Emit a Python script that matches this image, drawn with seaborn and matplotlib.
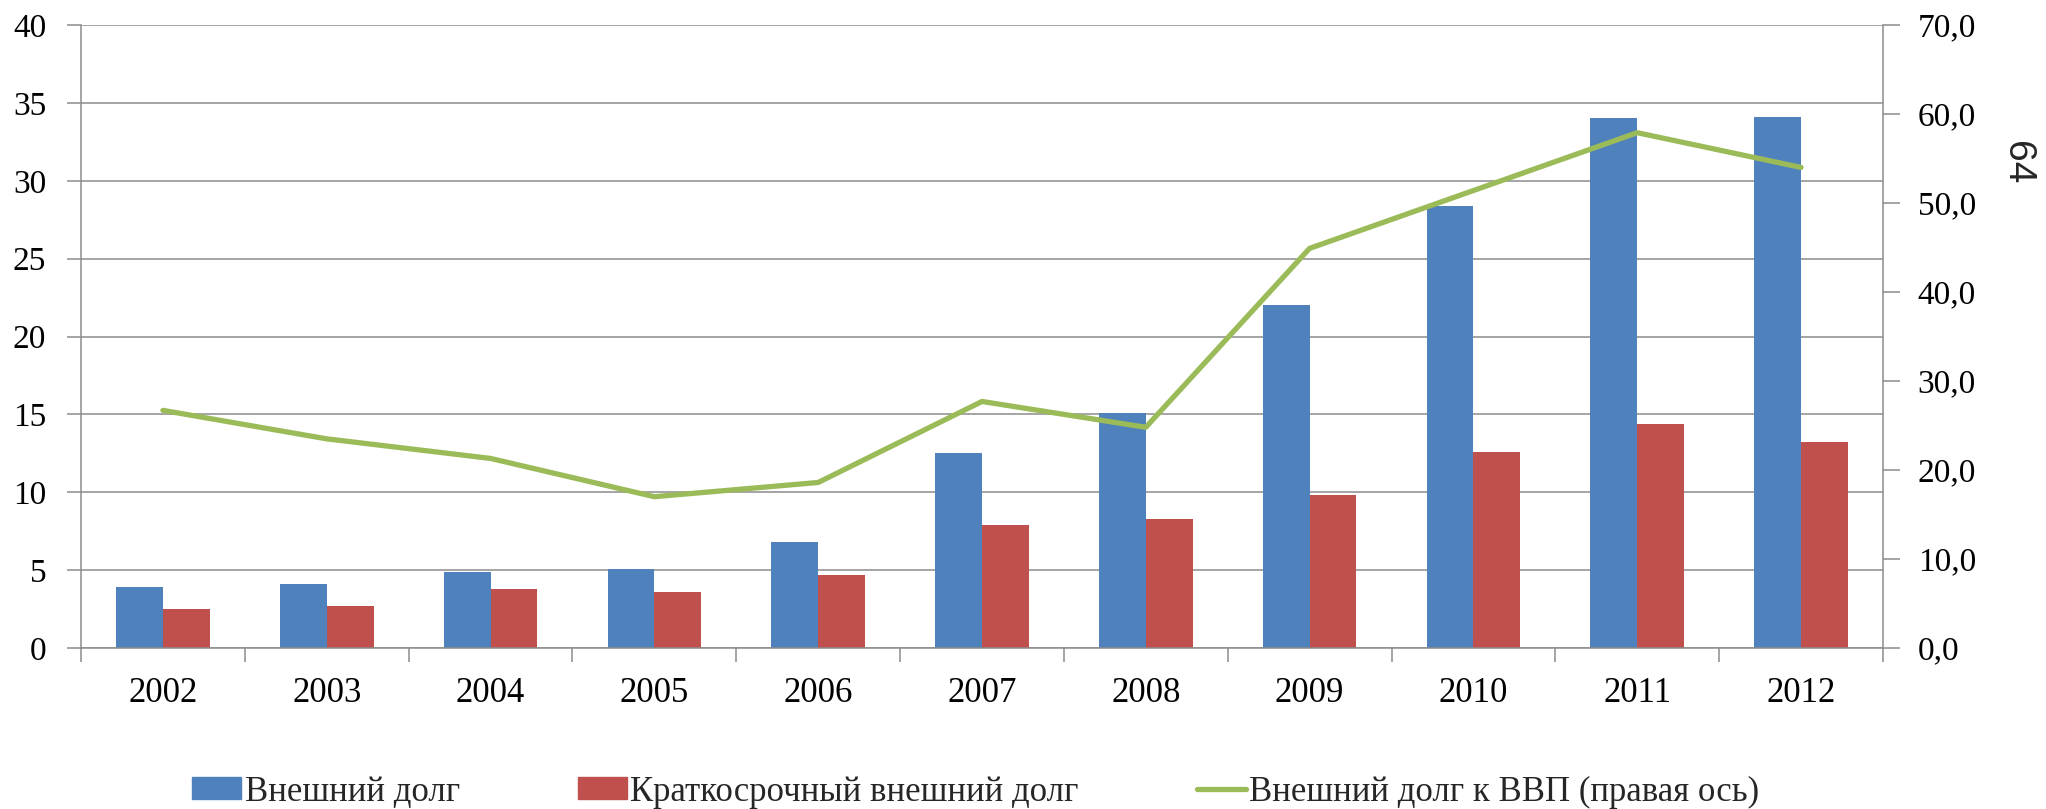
import numpy as np
import pandas as pd
import seaborn as sns
import matplotlib.pyplot as plt
from matplotlib.ticker import FuncFormatter, FixedLocator

sns.set_theme(style = "white")
plt.rcParams['font.family'] = ['Liberation Serif', 'DejaVu Serif']

# Data
years = ["2002", "2003", "2004", "2005", "2006", "2007", "2008", "2009", "2010", "2011", "2012"]
external_debt = [3.9, 4.1, 4.9, 5.1, 6.8, 12.5, 15.1, 22.0, 28.4, 34.0, 34.1]
short_term_debt = [2.5, 2.7, 3.8, 3.6, 4.7, 7.9, 8.3, 9.8, 12.6, 14.4, 13.2]
debt_to_gdp = [26.7, 23.5, 21.3, 17.0, 18.6, 27.7, 24.8, 44.9, 51.4, 57.9, 54.0]

bar_names = ["Внешний долг", "Краткосрочный внешний долг"]
line_name = "Внешний долг к ВВП (правая ось)"
colors = ["#4F81BD", "#C0504D"]
line_color = "#9BBB59"
grid_color = "#8C8C8C"

df = pd.DataFrame({
    "year": years * 2,
    "value": external_debt + short_term_debt,
    "series": [bar_names[0]] * len(years) + [bar_names[1]] * len(years),
})

fig = plt.figure(figsize = (20.46, 8.09), dpi = 100)
ax = fig.add_axes([0.0396, 0.199, 0.8807, 0.7701])

sns.barplot(data = df, x = "year", y = "value", hue = "series", palette = colors,
            saturation = 1, width = 0.571, gap = 0, linewidth = 0, ax = ax)
ax.get_legend().remove()

ax.set_ylim(0, 40)
ax.set_xlim(-0.5, len(years) - 0.5)
ax.set_yticks(np.arange(0, 41, 5))
ax.set_xlabel("")
ax.set_ylabel("")
ax.yaxis.grid(True, color = grid_color, linewidth = 1.1)
ax.set_axisbelow(True)

# Category ticks sit between groups, labels in the middle
ax.xaxis.set_minor_locator(FixedLocator(np.arange(-0.5, len(years), 1.0)))
ax.tick_params(axis = "x", which = "major", length = 0, pad = 21, labelsize = 25, colors = "black")
ax.tick_params(axis = "x", which = "minor", length = 10, width = 1.1, color = grid_color, bottom = True)
ax.tick_params(axis = "y", length = 10, width = 1.1, color = grid_color, left = True,
               pad = 15, labelsize = 24, labelcolor = "black")

for side in ["top", "right"]:
    ax.spines[side].set_visible(False)
for side in ["left", "bottom"]:
    ax.spines[side].set_color(grid_color)
    ax.spines[side].set_linewidth(1.1)

# Line on the right axis
ax2 = ax.twinx()
sns.lineplot(x = np.arange(len(years)), y = debt_to_gdp, color = line_color,
             linewidth = 3.8, ax = ax2)
ax2.set_ylim(0, 70)
ax2.set_xlim(-0.5, len(years) - 0.5)
ax2.set_yticks(np.arange(0, 71, 10))
ax2.yaxis.set_major_formatter(FuncFormatter(lambda v, p: f"{v:.1f}".replace(".", ",")))
ax2.tick_params(axis = "y", length = 12, width = 1.1, color = grid_color, right = True,
                pad = 13, labelsize = 24, labelcolor = "black")
ax2.grid(False)
for side in ["top", "left", "bottom"]:
    ax2.spines[side].set_visible(False)
ax2.spines["right"].set_color(grid_color)
ax2.spines["right"].set_linewidth(1.1)

# Page number at the right edge
fig.text(0.986, 0.7985, "64", rotation = 270, ha = "center", va = "center",
         fontsize = 28, family = ["Liberation Sans", "DejaVu Sans"])

# Legend below the chart
handles = [plt.Rectangle((0, 0), 1, 1, color = c) for c in colors]
handles.append(plt.Line2D([0], [0], color = line_color, linewidth = 3.8))
fig.legend(handles, bar_names + [line_name], loc = "center", bbox_to_anchor = (0.477, 0.021),
           ncol = 3, frameon = False, fontsize = 25, handlelength = 1.41, handleheight = 0.6,
           handletextpad = 0.1, columnspacing = 3.4)

fig.savefig("out.png", dpi = 100)
